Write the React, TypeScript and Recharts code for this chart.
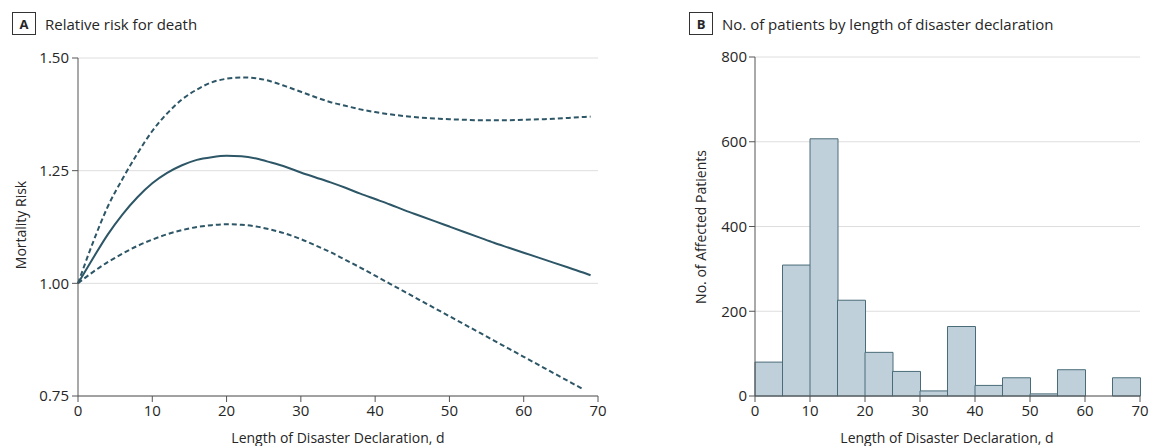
import {
  LineChart,
  Line,
  BarChart,
  Bar,
  XAxis,
  YAxis,
  CartesianGrid,
} from "recharts";

const FONT = "'Open Sans', Roboto, sans-serif";
const INK = "#2d5667";
const AXIS = "#555";
const GRID = "#dedede";
const TEXT = "#262626";

// Panel A: spline estimate of mortality risk with 95% CI
const days = [
  0, 2, 4, 6, 8, 10, 12, 14, 16, 18, 20, 22, 24, 26, 28, 30, 32, 34, 36, 38,
  40, 42, 44, 46, 48, 50, 52, 54, 56, 58, 60, 62, 64, 66, 68, 69,
];
const riskEstimate = [
  1.0, 1.055, 1.108, 1.153, 1.191, 1.222, 1.245, 1.262, 1.274, 1.28, 1.283,
  1.282, 1.277, 1.268, 1.258, 1.246, 1.235, 1.224, 1.212, 1.199, 1.187, 1.175,
  1.162, 1.15, 1.138, 1.126, 1.114, 1.102, 1.09, 1.079, 1.068, 1.057, 1.046,
  1.035, 1.024, 1.018,
];
const riskUpper = [
  1.0, 1.09, 1.17, 1.232, 1.288, 1.338, 1.377, 1.408, 1.43, 1.446, 1.454,
  1.457, 1.455, 1.448, 1.437, 1.425, 1.413, 1.402, 1.394, 1.386, 1.38, 1.375,
  1.371, 1.368, 1.366, 1.364, 1.363, 1.362, 1.362, 1.362, 1.363, 1.364, 1.365,
  1.367, 1.369, 1.37,
];
const riskLower = [
  1.0, 1.025, 1.047, 1.066, 1.083, 1.097, 1.109, 1.118, 1.125, 1.129, 1.131,
  1.13, 1.126, 1.119, 1.11, 1.098, 1.084, 1.069, 1.052, 1.035, 1.017, 0.999,
  0.981, 0.963, 0.945, 0.927, 0.909, 0.891, 0.873, 0.855, 0.837, 0.819, 0.801,
  0.783, 0.765, null,
];
const riskTicks = [0.75, 1.0, 1.25, 1.5];
const dayTicks = [0, 10, 20, 30, 40, 50, 60, 70];

// Panel B: histogram, 5-day bins
const binStarts = [0, 5, 10, 15, 20, 25, 30, 35, 40, 45, 50, 55, 60, 65];
const patientCounts = [80, 309, 607, 226, 103, 58, 12, 164, 25, 43, 5, 62, 0, 43];
const countTicks = [0, 200, 400, 600, 800];

const riskRows = days.map((d, i) => ({
  day: d,
  est: riskEstimate[i],
  hi: riskUpper[i],
  lo: riskLower[i],
}));
const histRows = binStarts.map((b, i) => ({ start: b, count: patientCounts[i] }));

const tickStyle = { fill: TEXT, fontSize: 15, fontFamily: FONT };

function PanelTitle({ letter, text, left }: { letter: string; text: string; left: number }) {
  return (
    <div
      style={{
        position: "absolute",
        left,
        top: 12,
        display: "flex",
        alignItems: "center",
        fontFamily: FONT,
        color: TEXT,
      }}
    >
      <span
        style={{
          width: 22,
          height: 21,
          border: "1px solid #333",
          display: "inline-flex",
          alignItems: "center",
          justifyContent: "center",
          fontWeight: 700,
          fontSize: 13,
        }}
      >
        {letter}
      </span>
      <span style={{ marginLeft: 9, fontSize: 15 }}>{text}</span>
    </div>
  );
}

function AxisTitle({ text, x, y, vertical }: { text: string; x: number; y: number; vertical?: boolean }) {
  return (
    <div
      style={{
        position: "absolute",
        left: x,
        top: y,
        transform: `translate(-50%, -50%)${vertical ? " rotate(-90deg)" : ""}`,
        whiteSpace: "nowrap",
        fontFamily: FONT,
        fontSize: 14,
        color: TEXT,
      }}
    >
      {text}
    </div>
  );
}

export default function App() {
  return (
    <div
      style={{
        position: "absolute",
        left: 0,
        top: 0,
        width: 1151,
        height: 446,
        background: "#fff",
        overflow: "hidden",
      }}
    >
      <PanelTitle letter="A" text="Relative risk for death" left={12} />
      <PanelTitle letter="B" text="No. of patients by length of disaster declaration" left={689} />

      <div style={{ position: "absolute", left: 0, top: 0 }}>
        <LineChart
          width={620}
          height={446}
          data={riskRows}
          margin={{ top: 58, right: 22, bottom: 0, left: 0 }}
        >
          <CartesianGrid vertical={false} stroke={GRID} />
          <XAxis
            dataKey="day"
            type="number"
            domain={[0, 70]}
            ticks={dayTicks}
            interval={0}
            height={50}
            tickSize={6}
            tickMargin={3}
            tick={tickStyle}
            axisLine={{ stroke: AXIS }}
            tickLine={{ stroke: AXIS }}
          />
          <YAxis
            type="number"
            domain={[0.75, 1.5]}
            ticks={riskTicks}
            interval={0}
            width={78}
            tickSize={6}
            tickMargin={3}
            tick={tickStyle}
            tickFormatter={(v: number) => v.toFixed(2)}
            axisLine={{ stroke: AXIS }}
            tickLine={{ stroke: AXIS }}
          />
          <Line
            dataKey="hi"
            type="monotone"
            stroke={INK}
            strokeWidth={2}
            strokeDasharray="5 3"
            dot={false}
            isAnimationActive={false}
          />
          <Line
            dataKey="lo"
            type="monotone"
            stroke={INK}
            strokeWidth={2}
            strokeDasharray="5 3"
            dot={false}
            isAnimationActive={false}
          />
          <Line
            dataKey="est"
            type="monotone"
            stroke={INK}
            strokeWidth={2}
            dot={false}
            isAnimationActive={false}
          />
        </LineChart>
      </div>
      <AxisTitle text="Mortality Risk" x={20} y={225} vertical />
      <AxisTitle text="Length of Disaster Declaration, d" x={338} y={437} />

      <div style={{ position: "absolute", left: 680, top: 0 }}>
        <BarChart
          width={471}
          height={446}
          data={histRows}
          margin={{ top: 57, right: 11, bottom: 0, left: 0 }}
          barCategoryGap={0}
          barGap={0}
        >
          <CartesianGrid vertical={false} stroke={GRID} />
          <XAxis xAxisId="bins" dataKey="start" type="category" hide />
          <XAxis
            dataKey="start"
            type="number"
            domain={[0, 70]}
            allowDataOverflow
            ticks={dayTicks}
            interval={0}
            height={50}
            tickSize={6}
            tickMargin={3}
            tick={tickStyle}
            axisLine={{ stroke: AXIS }}
            tickLine={{ stroke: AXIS }}
          />
          <YAxis
            type="number"
            domain={[0, 800]}
            ticks={countTicks}
            interval={0}
            width={75}
            tickSize={6}
            tickMargin={2}
            tick={tickStyle}
            axisLine={{ stroke: AXIS }}
            tickLine={{ stroke: AXIS }}
          />
          <Bar
            xAxisId="bins"
            dataKey="count"
            fill="#bfd0da"
            stroke="#4a6c79"
            strokeWidth={1}
            isAnimationActive={false}
          />
        </BarChart>
      </div>
      <AxisTitle text="No. of Affected Patients" x={700} y={227} vertical />
      <AxisTitle text="Length of Disaster Declaration, d" x={947} y={437} />
    </div>
  );
}
